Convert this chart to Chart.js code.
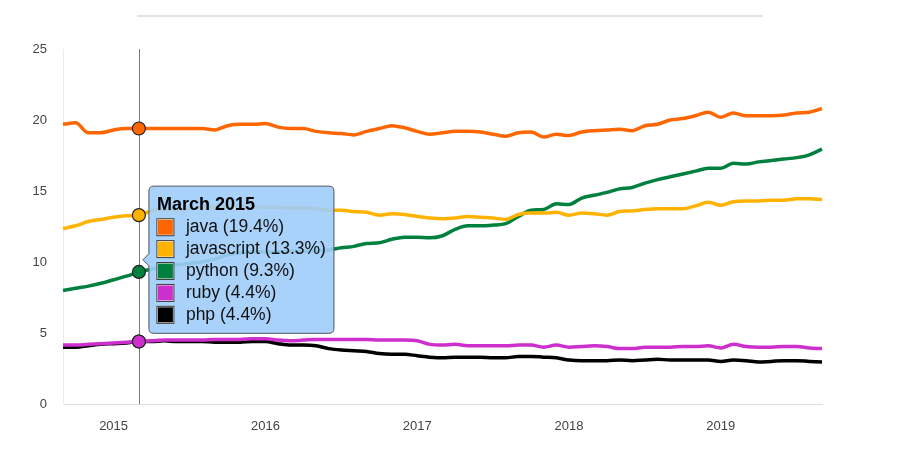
<!DOCTYPE html>
<html>
<head>
<meta charset="utf-8">
<script src="https://cdn.jsdelivr.net/npm/chart.js@4/dist/chart.umd.min.js"></script>
<style>
    body { margin: 0; background: #ffffff; }
    #wrap { width: 903px; height: 453px; position: relative; }
</style>
</head>
<body>
<div id="wrap"><canvas id="langChart"></canvas></div>
<script>
// Monthly labels, Sep 2014 .. Sep 2019
const monthLabels = [
    'September 2014', 'October 2014', 'November 2014', 'December 2014',
    'January 2015', 'February 2015', 'March 2015', 'April 2015', 'May 2015', 'June 2015',
    'July 2015', 'August 2015', 'September 2015', 'October 2015', 'November 2015', 'December 2015',
    'January 2016', 'February 2016', 'March 2016', 'April 2016', 'May 2016', 'June 2016',
    'July 2016', 'August 2016', 'September 2016', 'October 2016', 'November 2016', 'December 2016',
    'January 2017', 'February 2017', 'March 2017', 'April 2017', 'May 2017', 'June 2017',
    'July 2017', 'August 2017', 'September 2017', 'October 2017', 'November 2017', 'December 2017',
    'January 2018', 'February 2018', 'March 2018', 'April 2018', 'May 2018', 'June 2018',
    'July 2018', 'August 2018', 'September 2018', 'October 2018', 'November 2018', 'December 2018',
    'January 2019', 'February 2019', 'March 2019', 'April 2019', 'May 2019', 'June 2019',
    'July 2019', 'August 2019', 'September 2019'
];

const javaValues = [
    19.7, 19.8, 19.1, 19.1, 19.3, 19.4, 19.4, 19.4, 19.4, 19.4,
    19.4, 19.4, 19.3, 19.6, 19.7, 19.7, 19.75, 19.5, 19.4, 19.4,
    19.2, 19.1, 19.05, 18.95, 19.2, 19.4, 19.6, 19.45, 19.2, 19.0,
    19.1, 19.2, 19.2, 19.15, 19.0, 18.85, 19.1, 19.15, 18.8, 19.0,
    18.9, 19.15, 19.25, 19.3, 19.35, 19.25, 19.6, 19.7, 20.0, 20.1,
    20.3, 20.55, 20.2, 20.5, 20.3, 20.3, 20.3, 20.35, 20.5, 20.55,
    20.8
];
const javascriptValues = [
    12.35, 12.55, 12.85, 13.0, 13.15, 13.25, 13.3, 13.6, 13.7, 13.7,
    13.75, 13.85, 13.85, 13.9, 13.9, 13.9, 13.85, 13.85, 13.8, 13.8,
    13.75, 13.65, 13.65, 13.55, 13.5, 13.3, 13.4, 13.35, 13.2, 13.1,
    13.05, 13.1, 13.2, 13.15, 13.1, 13.0, 13.35, 13.45, 13.45, 13.5,
    13.3, 13.45, 13.4, 13.3, 13.55, 13.6, 13.7, 13.75, 13.75, 13.75,
    13.95, 14.2, 14.0, 14.25, 14.3, 14.3, 14.35, 14.35, 14.45, 14.45,
    14.4
];
const pythonValues = [
    8.0, 8.15, 8.3, 8.5, 8.75, 9.0, 9.3, 9.5, 9.7, 9.8,
    9.9, 10.0, 10.2, 10.5, 10.65, 10.7, 10.7, 10.7, 10.75, 10.75,
    10.8, 10.85, 11.0, 11.1, 11.3, 11.35, 11.6, 11.75, 11.75, 11.7,
    11.85, 12.3, 12.55, 12.55, 12.6, 12.7, 13.2, 13.65, 13.7, 14.1,
    14.05, 14.5, 14.7, 14.9, 15.15, 15.25, 15.55, 15.8, 16.0, 16.2,
    16.4, 16.6, 16.6, 16.95, 16.9, 17.05, 17.15, 17.25, 17.35, 17.55,
    17.95
];
const rubyValues = [
    4.15, 4.15, 4.2, 4.25, 4.3, 4.35, 4.4, 4.45, 4.5, 4.5,
    4.5, 4.5, 4.55, 4.55, 4.55, 4.6, 4.6, 4.5, 4.45, 4.5,
    4.55, 4.55, 4.55, 4.55, 4.55, 4.5, 4.5, 4.5, 4.45, 4.2,
    4.15, 4.2, 4.1, 4.1, 4.1, 4.1, 4.15, 4.15, 4.0, 4.15,
    4.0, 4.05, 4.1, 4.05, 3.9, 3.9, 4.0, 4.0, 4.0, 4.05,
    4.05, 4.1, 3.95, 4.2, 4.05, 4.0, 4.0, 4.05, 4.05, 3.95,
    3.9
];
const phpValues = [
    4.0, 4.0, 4.1, 4.2, 4.25, 4.3, 4.4, 4.4, 4.45, 4.4,
    4.4, 4.4, 4.35, 4.35, 4.35, 4.4, 4.4, 4.25, 4.15, 4.15,
    4.1, 3.9, 3.8, 3.75, 3.7, 3.55, 3.5, 3.5, 3.4, 3.3,
    3.25, 3.3, 3.3, 3.3, 3.25, 3.25, 3.35, 3.35, 3.3, 3.25,
    3.1, 3.05, 3.05, 3.05, 3.1, 3.05, 3.1, 3.15, 3.1, 3.1,
    3.1, 3.1, 3.0, 3.1, 3.05, 2.95, 3.0, 3.05, 3.05, 3.0,
    2.95
];

const seriesNames = ['java', 'javascript', 'python', 'ruby', 'php'];
const yTicks = [0, 5, 10, 15, 20, 25];
const highlightedMonth = 'March 2015';

const langColors = {
    java: '#ff6600',
    javascript: '#ffb300',
    python: '#00803f',
    ruby: '#cc2fcc',
    php: '#000000'
};

const seriesValues = [javaValues, javascriptValues, pythonValues, rubyValues, phpValues];

function makeDataset(name, values) {
    return {
        label: name,
        data: values,
        borderColor: langColors[name],
        backgroundColor: langColors[name],
        borderWidth: 3.5,
        cubicInterpolationMode: 'monotone',
        pointRadius: 0,
        pointHoverRadius: 6.5,
        pointHoverBorderWidth: 1.2,
        pointHoverBorderColor: '#222222',
        pointHoverBackgroundColor: langColors[name],
        fill: false
    };
}

// gray hover line + the thin bar above the plot
const decorPlugin = {
    id: 'decor',
    beforeDatasetsDraw(chart) {
        const active = chart.getActiveElements();
        if (!active.length) return;
        const ctx = chart.ctx;
        const x = active[0].element.x;
        ctx.save();
        ctx.strokeStyle = '#7a7a7a';
        ctx.lineWidth = 1;
        ctx.beginPath();
        ctx.moveTo(Math.round(x) + 0.5, chart.chartArea.top);
        ctx.lineTo(Math.round(x) + 0.5, chart.chartArea.bottom);
        ctx.stroke();
        ctx.restore();
    },
    afterDraw(chart) {
        const ctx = chart.ctx;
        ctx.save();
        ctx.fillStyle = '#e2e2e2';
        ctx.fillRect(137, 15, 626, 2);
        ctx.restore();
    }
};

const ctx = document.getElementById('langChart');
const langChart = new Chart(ctx, {
    type: 'line',
    data: {
        labels: monthLabels,
        datasets: seriesNames.map((name, i) => makeDataset(name, seriesValues[i]))
    },
    options: {
        responsive: true,
        maintainAspectRatio: false,
        animation: false,
        events: [],
        interaction: { mode: 'index', intersect: false },
        layout: { padding: { top: 49, right: 81, left: 0, bottom: 0 } },
        plugins: {
            legend: { display: false },
            tooltip: {
                enabled: true,
                xAlign: 'left',
                yAlign: 'center',
                backgroundColor: 'rgba(160, 205, 250, 0.9)',
                borderColor: '#4d5560',
                borderWidth: 1,
                cornerRadius: 5,
                caretSize: 6,
                caretPadding: 4,
                padding: 8,
                titleColor: '#000000',
                titleFont: { family: 'Liberation Sans, Arial, sans-serif', size: 18, weight: 'bold' },
                titleMarginBottom: 1,
                bodyColor: '#111111',
                bodyFont: { family: 'Liberation Sans, Arial, sans-serif', size: 17.5 },
                bodySpacing: 0.9,
                boxWidth: 17,
                boxHeight: 17,
                boxPadding: 10,
                multiKeyBackground: '#ffffff',
                callbacks: {
                    label: (item) => item.dataset.label + ' (' + item.parsed.y.toFixed(1) + '%)',
                    labelColor: (item) => ({
                        borderColor: '#3a3a3a',
                        backgroundColor: langColors[item.dataset.label],
                        borderWidth: 1
                    })
                }
            }
        },
        scales: {
            x: {
                grid: { display: false },
                border: { display: true, color: '#dddddd', width: 1 },
                ticks: {
                    autoSkip: false,
                    maxRotation: 0,
                    padding: 7,
                    color: '#444444',
                    font: { family: 'Liberation Sans, Arial, sans-serif', size: 13 },
                    callback: function (value) {
                        const label = this.getLabelForValue(value);
                        return label.startsWith('January') ? label.split(' ')[1] : '';
                    }
                },
                afterFit: (scale) => { scale.height = 49; }
            },
            y: {
                min: yTicks[0],
                max: yTicks[yTicks.length - 1],
                grid: { display: false },
                border: { display: true, color: '#ececec', width: 1 },
                ticks: {
                    stepSize: yTicks[1] - yTicks[0],
                    padding: 8,
                    color: '#444444',
                    font: { family: 'Liberation Sans, Arial, sans-serif', size: 13 }
                },
                afterFit: (scale) => { scale.width = 63; }
            }
        }
    },
    plugins: [decorPlugin]
});

// show the hover state for the highlighted month
const hi = monthLabels.indexOf(highlightedMonth);
const activeEls = seriesNames.map((_, i) => ({ datasetIndex: i, index: hi }));
langChart.setActiveElements(activeEls);
langChart.tooltip.setActiveElements(activeEls, { x: 0, y: 0 });
langChart.update();
</script>
</body>
</html>
